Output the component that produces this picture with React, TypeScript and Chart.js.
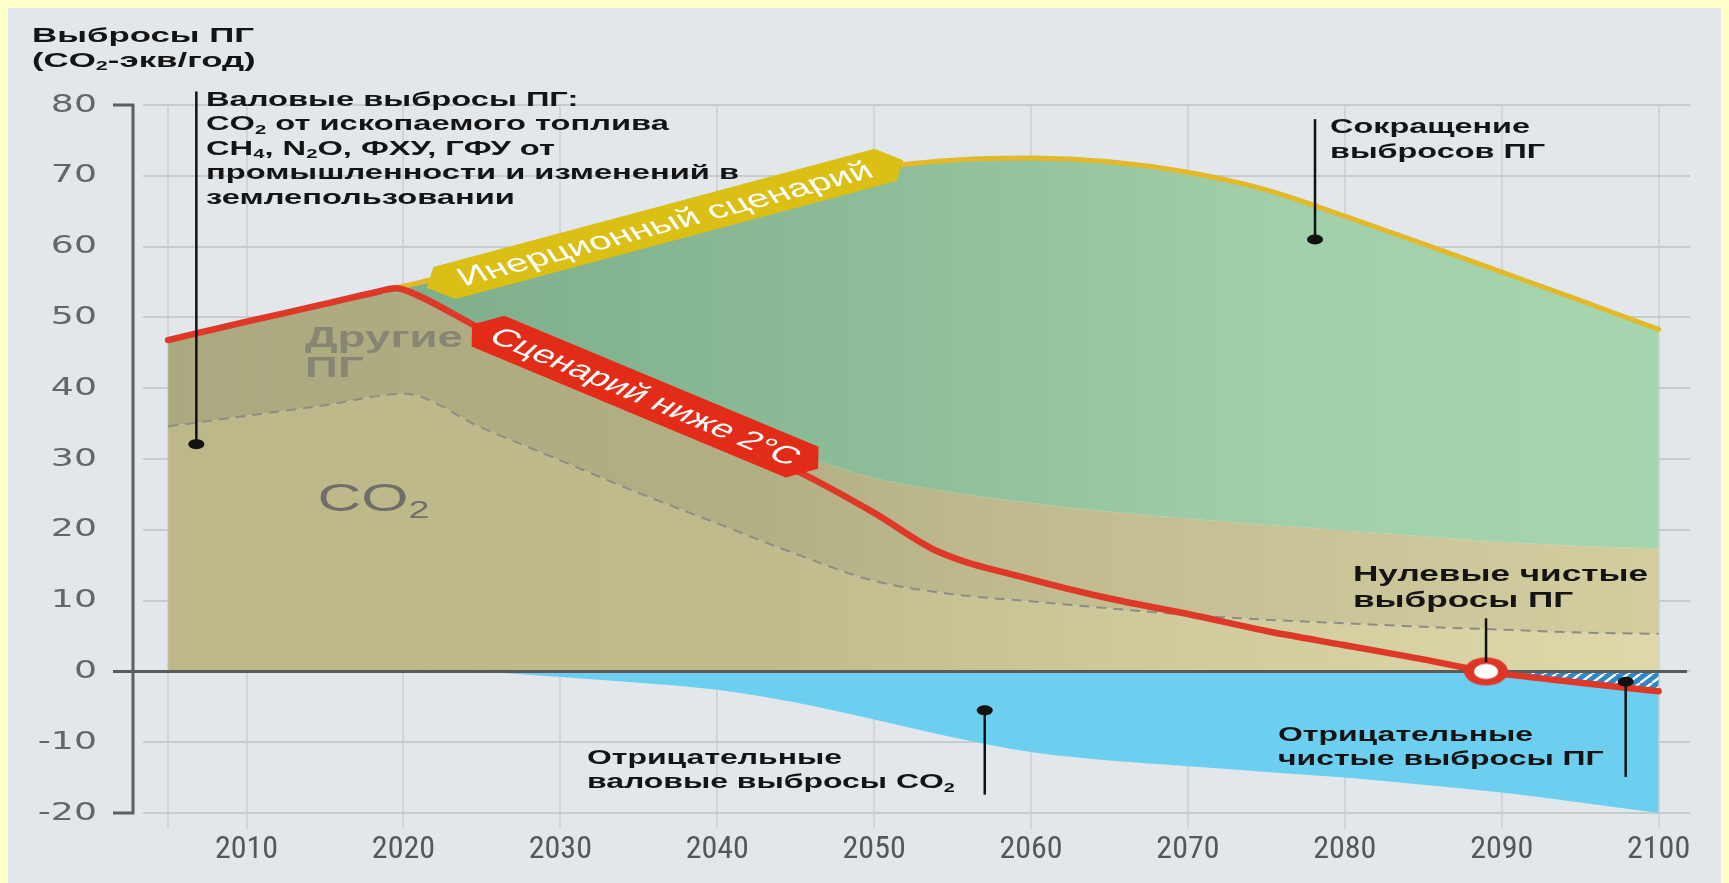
import React, { useEffect, useRef } from 'react';
import { Chart, registerables } from 'chart.js';

Chart.register(...registerables);

// ---------------- data ----------------
const years = [2005, 2010, 2015, 2020, 2025, 2030, 2035, 2040, 2045, 2050, 2055, 2060, 2065, 2070, 2075, 2080, 2085, 2090, 2095, 2100];
// top of the positive gross emissions (CO2 + other GHG)
const grossTotal = [46.6, 49.2, 51.7, 53.6, 48.4, 43.4, 38.8, 34.6, 30.8, 27.3, 25.3, 23.8, 22.6, 21.6, 20.7, 19.9, 19.1, 18.3, 17.7, 17.4];
// positive gross CO2 (dashed boundary)
const grossCO2 = [34.6, 36.1, 37.6, 39.2, 34.4, 29.8, 25.2, 20.9, 16.6, 12.8, 10.9, 9.9, 8.9, 8.0, 7.3, 6.8, 6.3, 5.9, 5.5, 5.3];
// negative gross CO2 emissions
const negYears = [2025, 2030, 2035, 2040, 2045, 2050, 2055, 2060, 2065, 2070, 2075, 2080, 2085, 2090, 2095, 2100];
const negativeCO2 = [0, -0.8, -1.6, -2.6, -4.4, -6.8, -9.3, -11.4, -12.6, -13.4, -14.2, -15.0, -16.0, -17.1, -18.5, -20.0];
// business-as-usual scenario (yellow)
const bauYears = [2019, 2020, 2025, 2030, 2035, 2040, 2045, 2050, 2055, 2060, 2065, 2070, 2075, 2080, 2085, 2090, 2095, 2100];
const bauValues = [54.0, 54.4, 57.2, 60.0, 62.9, 65.6, 68.4, 71.0, 72.2, 72.5, 72.0, 70.5, 68.0, 64.3, 60.4, 56.4, 52.4, 48.3];
// below 2°C scenario, net emissions (red)
const netYears = [2005, 2010, 2015, 2018.5, 2019.5, 2020.5, 2025, 2030, 2035, 2040, 2045, 2050, 2054, 2060, 2065, 2070, 2075, 2080, 2085, 2089, 2095, 2100];
const netValues = [46.8, 49.4, 51.9, 53.7, 54.1, 53.5, 48.3, 43.0, 37.8, 33.0, 28.4, 22.4, 17.0, 13.0, 10.3, 8.1, 5.7, 3.7, 1.7, 0.0, -1.6, -2.8];
const netZeroYear = 2089;

const xTickYears = [2005, 2010, 2020, 2030, 2040, 2050, 2060, 2070, 2080, 2090, 2100];
const yTickValues = [-20, -10, 0, 10, 20, 30, 40, 50, 60, 70, 80];

// ---------------- styles / layout ----------------
const FONT = '"Liberation Sans", Arial, sans-serif';
const SX = 1.6; // horizontal stretch of the reference artwork
const SX_Y = 1.45; // stretch of the y tick labels
const TXT = '#141414';

const notes = [
  { lines: ['Выбросы ПГ', '(CO_2-экв/год)'], x: 24, y: 33.5, lh: 25, size: 21, weight: 'bold', color: TXT, ref: 0, w: 222 },
  { lines: ['Валовые выбросы ПГ:', 'CO_2 от ископаемого топлива', 'CH_4, N_2O, ФХУ, ГФУ от', 'промышленности и изменений в', 'землепользовании'], x: 198, y: 97.5, lh: 24.5, size: 20.5, weight: 'bold', color: TXT, ref: 3, w: 533 },
  { lines: ['Сокращение', 'выбросов ПГ'], x: 1322, y: 125, lh: 24.5, size: 20.5, weight: 'bold', color: TXT, ref: 0, w: 200 },
  { lines: ['Нулевые чистые', 'выбросы ПГ'], x: 1345, y: 572.7, lh: 26, size: 21.5, weight: 'bold', color: TXT, ref: 0, w: 295 },
  { lines: ['Отрицательные', 'чистые выбросы ПГ'], x: 1270, y: 733, lh: 23.5, size: 20.5, weight: 'bold', color: TXT, ref: 0, w: 255 },
  { lines: ['Отрицательные', 'валовые выбросы CO_2'], x: 579, y: 756, lh: 24.3, size: 20.5, weight: 'bold', color: TXT, ref: 0, w: 255 },
  { lines: ['Другие', 'ПГ'], x: 297, y: 339, lh: 30, size: 29, weight: 'bold', color: '#878673', ref: 0, w: 158 },
  { lines: ['CO_2'], x: 309.5, y: 503, lh: 0, size: 39, weight: 'normal', color: '#6F6F69', ref: 0, w: 112 },
];

// leader lines in data coordinates: x year, from y1 to y2, optional dot at y2
const leaders = [
  { x: 2006.8, y1: 81.9, y2: 32.1, dot: true },
  { x: 2078.1, y1: 78.0, y2: 61.0, dot: true },
  { x: netZeroYear, y1: 7.5, y2: 1.3, dot: false },
  { x: 2097.9, y1: -14.9, y2: -1.45, dot: true },
  { x: 2057.05, y1: -17.4, y2: -5.5, dot: true },
];

const banners = [
  { text: 'Инерционный сценарий', x: 2036.67, y: 63.2, angle: -23.2, len: 300, h: 35, tip: 12, color: '#DBBF14', textW: 280, size: 26 },
  { text: 'Сценарий ниже 2°C', x: 2035.4, y: 38.8, angle: 33.7, len: 236, h: 37, tip: 12, color: '#E22C18', textW: 228, size: 25 },
];

function parseRich(s: string) {
  const parts: { t: string; sub: boolean }[] = [];
  const re = /_(\d)/g;
  let last = 0;
  let m: RegExpExecArray | null;
  while ((m = re.exec(s))) {
    if (m.index > last) parts.push({ t: s.slice(last, m.index), sub: false });
    parts.push({ t: m[1], sub: true });
    last = m.index + m[0].length;
  }
  if (last < s.length) parts.push({ t: s.slice(last), sub: false });
  return parts;
}

function richWidth(ctx: CanvasRenderingContext2D, s: string, size: number, weight: string) {
  let w = 0;
  for (const p of parseRich(s)) {
    ctx.font = `${weight} ${p.sub ? size * 0.62 : size}px ${FONT}`;
    w += ctx.measureText(p.t).width;
  }
  return w;
}

function drawRich(ctx: CanvasRenderingContext2D, s: string, x: number, y: number, size: number, weight: string, color: string, sx: number) {
  ctx.save();
  ctx.translate(x, y);
  ctx.scale(sx, 1);
  ctx.fillStyle = color;
  ctx.textAlign = 'left';
  ctx.textBaseline = 'alphabetic';
  let cx = 0;
  for (const p of parseRich(s)) {
    const fs = p.sub ? size * 0.62 : size;
    ctx.font = `${weight} ${fs}px ${FONT}`;
    ctx.fillText(p.t, cx, p.sub ? size * 0.18 : 0);
    cx += ctx.measureText(p.t).width;
  }
  ctx.restore();
}

function gradient(chart: any, stops: [number, string][], fallback: string) {
  const ca = chart.chartArea;
  const xs = chart.scales && chart.scales.x;
  if (!ca || !xs) return fallback;
  const x0 = xs.getPixelForValue(2005);
  const x1 = xs.getPixelForValue(2100);
  const g = chart.ctx.createLinearGradient(x0, 0, x1, 0);
  for (const [o, c] of stops) g.addColorStop(o, c);
  return g;
}

export default function App() {
  const ref = useRef<HTMLCanvasElement>(null);

  useEffect(() => {
    document.body.style.background = '#FFFFCC';
    document.documentElement.style.overflow = 'hidden';
    const canvas = ref.current;
    if (!canvas) return;

    // hatch pattern for negative net emissions
    const tile = document.createElement('canvas');
    tile.width = 12;
    tile.height = 9;
    const t = tile.getContext('2d')!;
    t.fillStyle = '#2F87C6';
    t.fillRect(0, 0, 12, 9);
    t.strokeStyle = '#ffffff';
    t.lineWidth = 2.4;
    for (let k = -1; k <= 1; k++) {
      t.beginPath();
      t.moveTo(k * 12, 9);
      t.lineTo(k * 12 + 12, 0);
      t.stroke();
    }
    const pattern = canvas.getContext('2d')!.createPattern(tile, 'repeat');

    // net-zero marker (stretched ring)
    const ring = document.createElement('canvas');
    ring.width = 48;
    ring.height = 32;
    const r = ring.getContext('2d')!;
    r.fillStyle = '#DF3526';
    r.beginPath();
    r.ellipse(24, 16, 22, 14, 0, 0, Math.PI * 2);
    r.fill();
    r.fillStyle = '#ffffff';
    r.beginPath();
    r.ellipse(24, 16, 12, 7.5, 0, 0, Math.PI * 2);
    r.fill();

    const annot = {
      id: 'annot',
      beforeDatasetsDraw(chart: any) {
        // zero line (above fills, below lines)
        const ctx = chart.ctx;
        const y0 = chart.scales.y.getPixelForValue(0);
        ctx.save();
        ctx.strokeStyle = '#5A5A5A';
        ctx.lineWidth = 3;
        ctx.beginPath();
        ctx.moveTo(105, y0);
        ctx.lineTo(chart.chartArea.right - 3, y0);
        ctx.stroke();
        ctx.restore();
      },
      afterDatasetsDraw(chart: any) {
        // stretch the y tick labels (drawn in z>0 layer)
        const ctx = chart.ctx;
        const ys = chart.scales.y;
        const px = ys.right - ys.options.ticks.padding;
        ctx.save();
        ctx.translate(px, 0);
        ctx.scale(SX_Y, 1);
        ctx.translate(-px, 0);
      },
      afterDraw(chart: any) {
        const ctx = chart.ctx;
        ctx.restore();
        const xs = chart.scales.x;
        const ys = chart.scales.y;

        // y axis bracket
        const bx = 125;
        const yt = ys.getPixelForValue(80);
        const yb = ys.getPixelForValue(-20);
        ctx.save();
        ctx.strokeStyle = '#5E5E5E';
        ctx.lineWidth = 3;
        ctx.lineCap = 'butt';
        ctx.beginPath();
        ctx.moveTo(105, yt);
        ctx.lineTo(bx, yt);
        ctx.lineTo(bx, yb);
        ctx.lineTo(105, yb);
        ctx.stroke();
        ctx.restore();

        // leader lines and dots
        ctx.save();
        ctx.strokeStyle = '#111';
        ctx.fillStyle = '#111';
        ctx.lineWidth = 2.5;
        for (const l of leaders) {
          const x = xs.getPixelForValue(l.x);
          ctx.beginPath();
          ctx.moveTo(x, ys.getPixelForValue(l.y1));
          ctx.lineTo(x, ys.getPixelForValue(l.y2));
          ctx.stroke();
          if (l.dot) {
            ctx.beginPath();
            ctx.ellipse(x, ys.getPixelForValue(l.y2), 8, 5, 0, 0, Math.PI * 2);
            ctx.fill();
          }
        }
        ctx.restore();

        // text notes
        for (const n of notes) {
          const sx = n.w / richWidth(ctx, n.lines[n.ref], n.size, n.weight);
          n.lines.forEach((line, i) => {
            drawRich(ctx, line, n.x, n.y + i * n.lh, n.size, n.weight, n.color, sx);
          });
        }

        // banners
        for (const b of banners) {
          const cx = xs.getPixelForValue(b.x);
          const cy = ys.getPixelForValue(b.y);
          ctx.save();
          ctx.translate(cx, cy);
          ctx.scale(SX, 1);
          ctx.rotate((b.angle * Math.PI) / 180);
          const hl = b.len / 2;
          const hh = b.h / 2;
          ctx.beginPath();
          ctx.moveTo(-hl - b.tip, 0);
          ctx.lineTo(-hl, -hh);
          ctx.lineTo(hl, -hh);
          ctx.lineTo(hl + b.tip, 0);
          ctx.lineTo(hl, hh);
          ctx.lineTo(-hl, hh);
          ctx.closePath();
          ctx.fillStyle = b.color;
          ctx.fill();
          ctx.font = `normal ${b.size}px ${FONT}`;
          const fs = (b.size * b.textW) / ctx.measureText(b.text).width;
          ctx.font = `normal ${fs}px ${FONT}`;
          ctx.fillStyle = '#ffffff';
          ctx.textAlign = 'center';
          ctx.textBaseline = 'middle';
          ctx.fillText(b.text, 0, 1);
          ctx.restore();
        }
      },
    };

    const pts = (xsArr: number[], vals: number[]) => xsArr.map((x, i) => ({ x, y: vals[i] }));

    const chart = new Chart(canvas, {
      type: 'line',
      data: {
        datasets: [
          {
            label: 'Инерционный сценарий',
            data: pts(bauYears, bauValues),
            borderColor: '#E2B92A',
            borderWidth: 5,
            borderCapStyle: 'round',
            fill: 1,
            backgroundColor: (c: any) =>
              gradient(c.chart, [[0, '#78A687'], [0.16, '#7EAE8B'], [0.47, '#8CBD98'], [0.74, '#A0CFA9'], [1, '#A6D6B0']], '#90C09C'),
            pointRadius: 0,
            cubicInterpolationMode: 'monotone',
            order: 7,
          },
          {
            label: 'Другие ПГ',
            data: pts(years, grossTotal),
            borderColor: 'transparent',
            borderWidth: 0,
            fill: 2,
            backgroundColor: (c: any) =>
              gradient(c.chart, [[0, '#ABA97F'], [0.4, '#B3AF85'], [0.6, '#C2BD91'], [1, '#D3CDA0']], '#B8B488'),
            pointRadius: 0,
            cubicInterpolationMode: 'monotone',
            order: 8,
          },
          {
            label: 'CO2',
            data: pts(years, grossCO2),
            borderColor: '#8E8D84',
            borderWidth: 2,
            borderDash: [10, 7],
            fill: 'origin',
            backgroundColor: (c: any) =>
              gradient(c.chart, [[0, '#BDB88A'], [0.4, '#C0BB8D'], [0.65, '#CFCA9C'], [1, '#DED8AB']], '#C8C396'),
            pointRadius: 0,
            cubicInterpolationMode: 'monotone',
            order: 9,
          },
          {
            label: 'Отрицательные валовые выбросы CO2',
            data: pts(negYears, negativeCO2),
            borderColor: 'transparent',
            borderWidth: 0,
            fill: 'origin',
            backgroundColor: '#6DCFF0',
            pointRadius: 0,
            cubicInterpolationMode: 'monotone',
            order: 10,
          },
          {
            label: 'Отрицательные чистые выбросы ПГ',
            data: pts(netYears, netValues).filter((p) => p.x >= netZeroYear),
            borderColor: 'transparent',
            borderWidth: 0,
            fill: 'origin',
            backgroundColor: pattern || '#2F87C6',
            pointRadius: 0,
            cubicInterpolationMode: 'monotone',
            order: 5,
          },
          {
            label: 'Сценарий ниже 2°C',
            data: pts(netYears, netValues),
            borderColor: '#DE3828',
            borderWidth: 6.5,
            borderCapStyle: 'round',
            borderJoinStyle: 'round',
            fill: false,
            pointRadius: 0,
            cubicInterpolationMode: 'monotone',
            order: 3,
          },
          {
            label: 'Нулевые чистые выбросы ПГ',
            data: [{ x: netZeroYear, y: 0 }],
            showLine: false,
            pointStyle: ring,
            pointRadius: 12,
            order: 1,
          },
        ],
      },
      options: {
        responsive: true,
        maintainAspectRatio: false,
        animation: false,
        events: [],
        layout: { padding: { left: 0, top: 97, right: 39, bottom: 0 } },
        plugins: {
          legend: { display: false },
          tooltip: { enabled: false },
          filler: { drawTime: 'beforeDatasetsDraw', propagate: false },
        },
        scales: {
          x: {
            type: 'linear',
            min: 2003.4,
            max: 2102,
            afterBuildTicks: (s: any) => {
              s.ticks = xTickYears.map((v) => ({ value: v }));
            },
            afterFit: (s: any) => {
              s.height = 70;
            },
            grid: { color: '#D0D5D9', lineWidth: 2, drawTicks: true, tickLength: 16 },
            border: { display: false },
            ticks: {
              autoSkip: false,
              maxRotation: 0,
              padding: 2,
              color: '#575757',
              font: { family: '"Liberation Sans Narrow", "Arial Narrow", "Roboto Condensed", sans-serif', size: 32 },
              callback: (v: any) => (v === 2005 ? '' : String(v)),
            },
          },
          y: {
            type: 'linear',
            min: -20,
            max: 80,
            afterBuildTicks: (s: any) => {
              s.ticks = yTickValues.map((v) => ({ value: v }));
            },
            afterFit: (s: any) => {
              s.width = 135;
            },
            grid: { color: '#C6CBCF', lineWidth: 2, drawTicks: false },
            border: { display: false },
            ticks: {
              z: 1,
              padding: 46,
              color: '#666666',
              font: { family: '"DejaVu Sans", sans-serif', size: 25 },
              callback: (v: any) => String(v),
            },
          },
        },
      },
      plugins: [annot],
    } as any);

    return () => chart.destroy();
  }, []);

  return (
    <div style={{ width: 1721, height: 875, background: '#E1E7EB', position: 'relative' }}>
      <canvas ref={ref} />
    </div>
  );
}
